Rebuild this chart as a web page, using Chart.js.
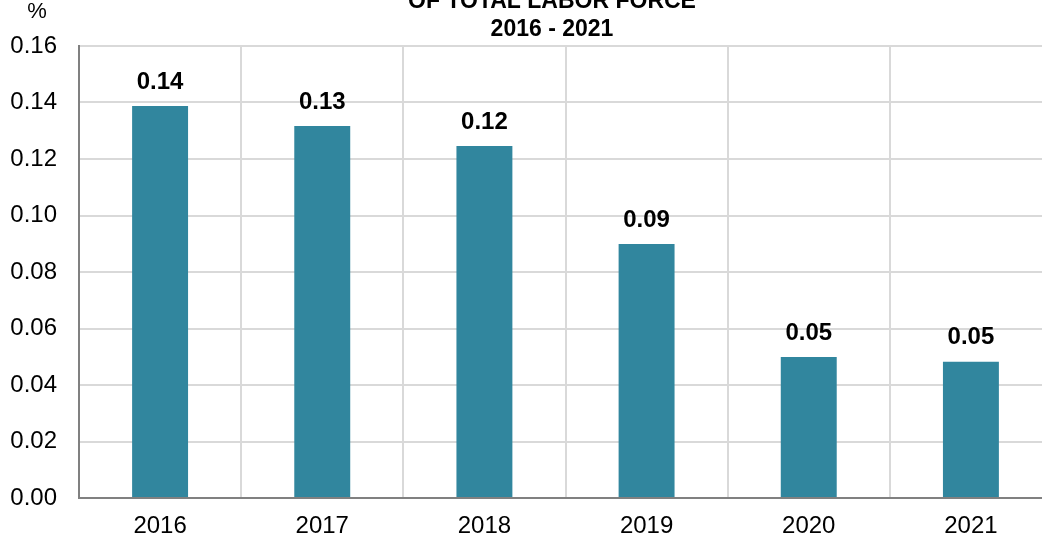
<!DOCTYPE html>
<html lang="en">
<head>
  <meta charset="UTF-8" />
  <title>Share of Total Labor Force 2016 - 2021</title>
  <script src="https://cdn.jsdelivr.net/npm/chart.js"></script>
  <style>
    html, body {
      margin: 0;
      padding: 0;
      background: #fff;
      overflow: hidden;
    }

    #chart-container {
      position: absolute;
      left: 0;
      top: -14px;
      width: 1056px;
      height: 558px;
    }
  </style>
</head>
<body>

  <div id="chart-container">
    <canvas id="laborChart"></canvas>
  </div>

  <script>
    const years = ['2016', '2017', '2018', '2019', '2020', '2021'];
    const shares = [0.1388, 0.1317, 0.1246, 0.0899, 0.0499, 0.0482];
    const titleLines = ['OF TOTAL LABOR FORCE', '2016 - 2021'];
    const unitLabel = '%';

    const FONT = "'Liberation Sans', Arial, sans-serif";

    // title and unit label, drawn at fixed spots like the original
    const headerPlugin = {
      id: 'header',
      afterDraw: chart => {
        const ctx = chart.ctx;
        ctx.save();
        ctx.fillStyle = '#000';
        ctx.textAlign = 'center';
        ctx.textBaseline = 'middle';
        ctx.font = 'bold 23px ' + FONT;
        titleLines.forEach((line, i) => {
          ctx.fillText(line, 552, 16 + i * 28);
        });
        ctx.font = '22px ' + FONT;
        ctx.fillText(unitLabel, 37, 26);
        ctx.restore();
      }
    };

    // value above each bar
    const valueLabels = {
      id: 'valueLabels',
      afterDatasetsDraw: chart => {
        const ctx = chart.ctx;
        const meta = chart.getDatasetMeta(0);
        ctx.save();
        ctx.fillStyle = '#000';
        ctx.font = 'bold 24px ' + FONT;
        ctx.textAlign = 'center';
        ctx.textBaseline = 'middle';
        meta.data.forEach((bar, i) => {
          ctx.fillText(shares[i].toFixed(2), bar.x, bar.y - 24);
        });
        ctx.restore();
      }
    };

    const chart = new Chart(document.getElementById('laborChart'), {
      type: 'bar',
      data: {
        labels: years,
        datasets: [{
          data: shares,
          backgroundColor: '#31869e',
          borderWidth: 0,
          categoryPercentage: 1,
          barPercentage: 0.345
        }]
      },
      options: {
        responsive: true,
        maintainAspectRatio: false,
        animation: false,
        layout: {
          padding: { left: 0, right: 4, top: 60, bottom: 0 }
        },
        plugins: {
          legend: { display: false },
          title: { display: false },
          tooltip: { enabled: false }
        },
        scales: {
          x: {
            grid: {
              color: '#d9d9d9',
              lineWidth: 2,
              drawTicks: false,
              offset: true
            },
            border: { color: '#808080', width: 2 },
            ticks: {
              color: '#000',
              font: { family: FONT, size: 24 },
              padding: 14
            },
            afterFit: scale => { scale.height = 46; }
          },
          y: {
            min: 0,
            max: 0.16,
            grid: {
              color: '#d9d9d9',
              lineWidth: 2,
              drawTicks: false
            },
            border: { color: '#808080', width: 2 },
            ticks: {
              stepSize: 0.02,
              color: '#000',
              font: { family: FONT, size: 24 },
              padding: 22,
              callback: v => v.toFixed(2)
            },
            afterFit: scale => { scale.width = 79; }
          }
        }
      },
      plugins: [headerPlugin, valueLabels]
    });
  </script>

</body>
</html>
